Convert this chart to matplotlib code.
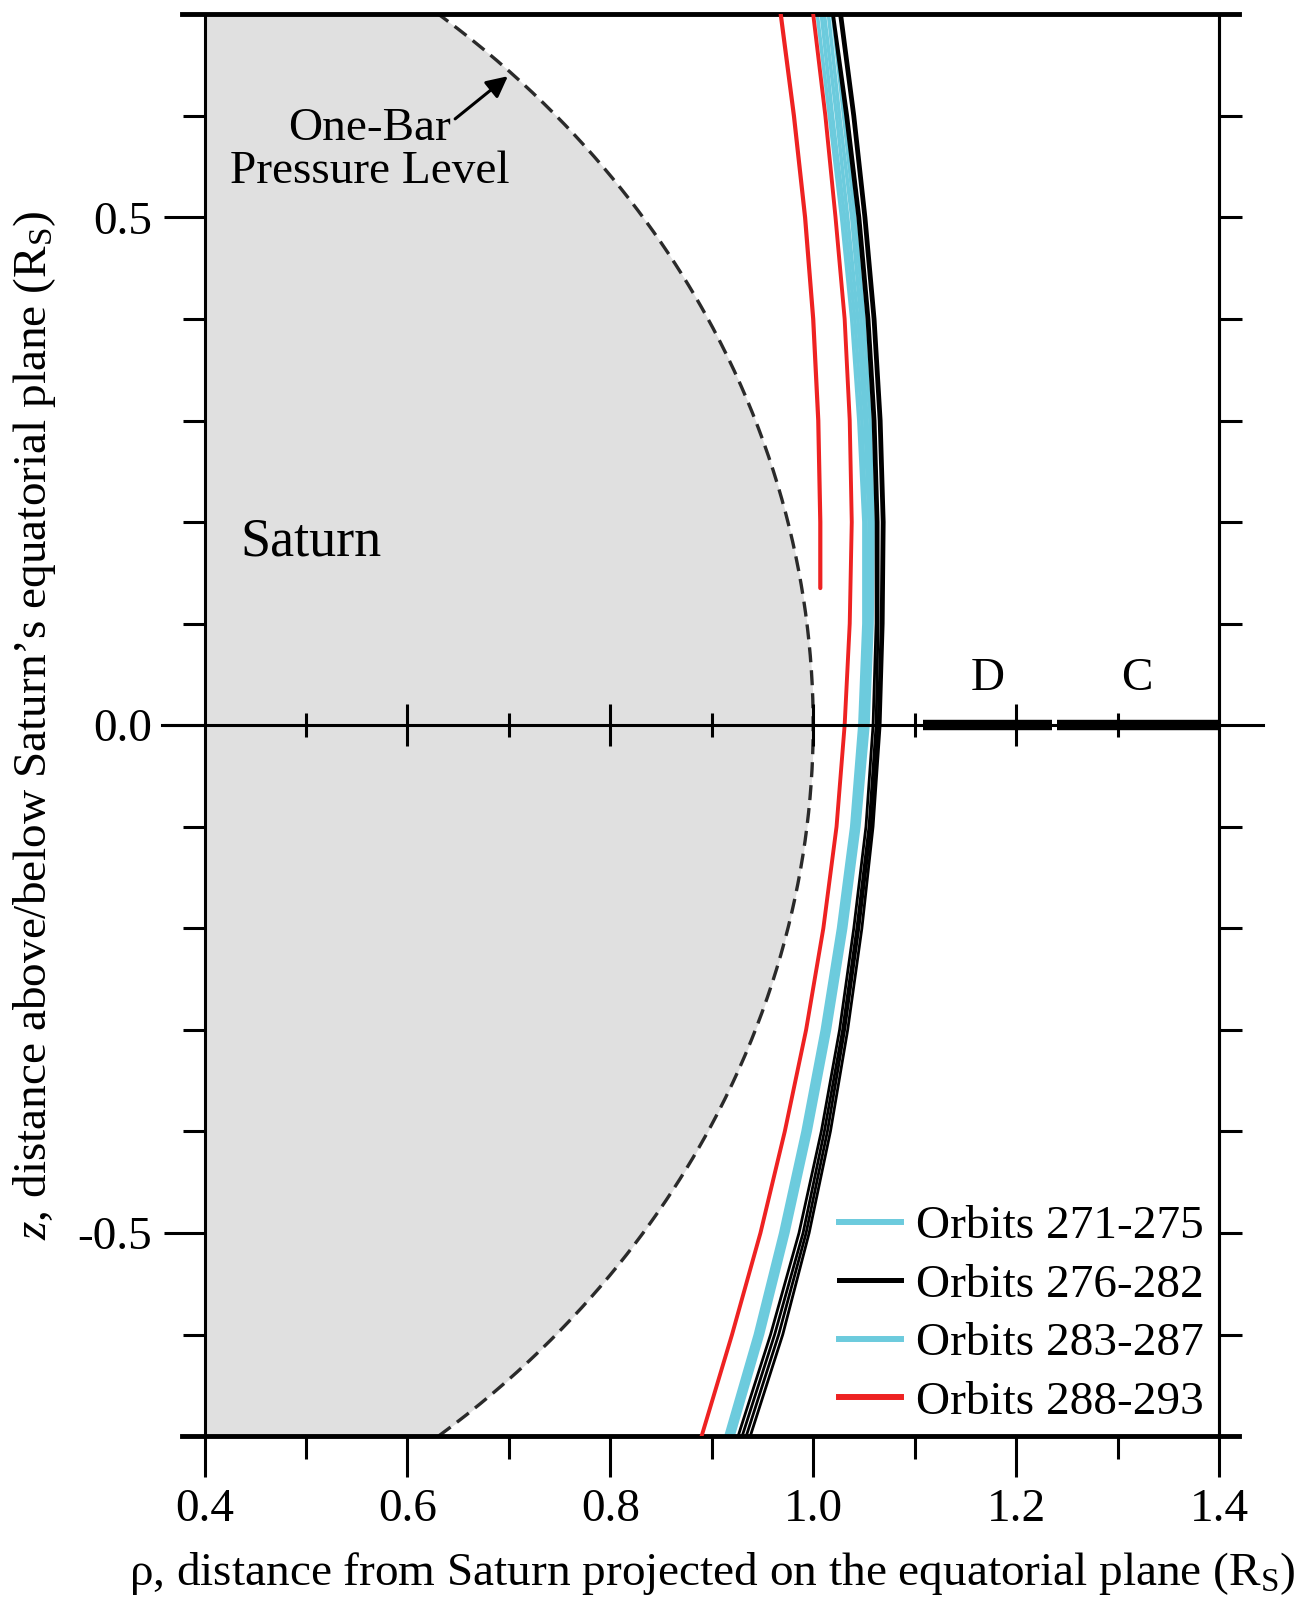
import matplotlib
matplotlib.use("Agg")
import matplotlib.pyplot as plt
from matplotlib.lines import Line2D
import numpy as np

plt.rcParams["font.family"] = "serif"
plt.rcParams["font.serif"] = ["Liberation Serif"]
plt.rcParams["mathtext.fontset"] = "custom"
plt.rcParams["mathtext.rm"] = "Liberation Serif"
plt.rcParams["mathtext.it"] = "Liberation Serif:italic"
plt.rcParams["mathtext.bf"] = "Liberation Serif:bold"

y_levels = [0.7, 0.6, 0.5, 0.4, 0.3, 0.2, 0.1, 0.0,
            -0.1, -0.2, -0.3, -0.4, -0.5, -0.6, -0.7]

# rho (R_S) of each trajectory at the levels above
orbits_271_275 = [
    [1.004, 1.016, 1.028, 1.038, 1.045, 1.050, 1.050, 1.046, 1.038, 1.025, 1.009, 0.990, 0.968, 0.943, 0.914],
    [1.008, 1.019, 1.031, 1.041, 1.048, 1.052, 1.052, 1.048, 1.040, 1.027, 1.011, 0.992, 0.970, 0.945, 0.916],
    [1.011, 1.023, 1.034, 1.044, 1.051, 1.055, 1.054, 1.050, 1.042, 1.029, 1.013, 0.994, 0.972, 0.947, 0.918],
]
orbits_276_282 = [
    [1.019, 1.032, 1.044, 1.053, 1.059, 1.062, 1.062, 1.059, 1.052, 1.040, 1.026, 1.008, 0.986, 0.958, 0.926],
    [1.020, 1.034, 1.046, 1.055, 1.061, 1.064, 1.064, 1.062, 1.055, 1.043, 1.029, 1.011, 0.990, 0.962, 0.930],
    [1.026, 1.039, 1.050, 1.059, 1.065, 1.068, 1.067, 1.064, 1.057, 1.045, 1.031, 1.014, 0.993, 0.966, 0.934],
    [1.028, 1.041, 1.052, 1.061, 1.067, 1.070, 1.069, 1.066, 1.059, 1.048, 1.034, 1.017, 0.996, 0.970, 0.938],
]
orbits_283_287 = [
    [1.015, 1.026, 1.038, 1.047, 1.053, 1.057, 1.056, 1.052, 1.043, 1.030, 1.014, 0.995, 0.973, 0.948, 0.919],
    [1.019, 1.030, 1.041, 1.050, 1.056, 1.059, 1.058, 1.054, 1.045, 1.032, 1.016, 0.997, 0.975, 0.950, 0.921],
]
orbits_288_293 = [
    [1.000, 1.012, 1.022, 1.031, 1.036, 1.038, 1.036, 1.031, 1.023, 1.010, 0.993, 0.972, 0.948, 0.920, 0.890],
]
# one red pass only partly covered
red_short_y = [0.7, 0.6, 0.5, 0.4, 0.3, 0.2, 0.135]
red_short_x = [0.968, 0.981, 0.992, 1.000, 1.005, 1.007, 1.007]

# Saturn one-bar level and rings
saturn_eq_radius = 1.0
saturn_polar_radius = 0.902
ring_d = [1.108, 1.235]
ring_c = [1.240, 1.400]

x_ticks = [0.4, 0.6, 0.8, 1.0, 1.2, 1.4]
x_minor = [0.5, 0.7, 0.9, 1.1, 1.3]
y_ticks = [-0.5, 0.0, 0.5]
y_minor = [-0.6, -0.4, -0.3, -0.2, -0.1, 0.1, 0.2, 0.3, 0.4, 0.6]
y_right = [-0.6, -0.5, -0.4, -0.3, -0.2, -0.1, 0.1, 0.2, 0.3, 0.4, 0.5, 0.6]
zero_major = [0.6, 0.8, 1.0, 1.2]
zero_minor = [0.5, 0.7, 0.9, 1.1, 1.3]

CYAN = "#6ccbdd"
RED = "#ee2222"
FS = 34

fig = plt.figure(figsize=(13.03, 16.04), dpi=100)
ax = fig.add_axes([0.157, 0.1047, 0.7785, 0.8864])
ax.set_xlim(0.4, 1.4)
ax.set_ylim(-0.7, 0.7)

# Saturn
yy = np.linspace(-0.7, 0.7, 400)
xx = saturn_eq_radius * np.sqrt(1 - (yy / saturn_polar_radius) ** 2)
ax.fill_betweenx(yy, 0.4, xx, color="#e0e0e0", lw=0, zorder=0)
ax.plot(xx, yy, color="#2a2a2a", ls=(0, (4.5, 2.4)), lw=2.4, zorder=1)

# trajectories
for xs in orbits_271_275:
    ax.plot(xs, y_levels, color=CYAN, lw=2.6, zorder=2)
for xs in orbits_283_287:
    ax.plot(xs, y_levels, color=CYAN, lw=2.6, zorder=2)
for xs in orbits_276_282:
    ax.plot(xs, y_levels, color="black", lw=2.0, zorder=3)
for xs in orbits_288_293:
    ax.plot(xs, y_levels, color=RED, lw=2.8, zorder=3)
ax.plot(red_short_x, red_short_y, color=RED, lw=3.0, zorder=3,
        solid_capstyle="round")

# equatorial plane with ticks and rings
ax.axhline(0, xmin=-0.042, xmax=1.043, color="black", lw=2.2, clip_on=False, zorder=4)
ax.plot(zero_major, [0] * len(zero_major), ls="none", marker="|", ms=30,
        mew=2.2, color="black", zorder=4)
ax.plot(zero_minor, [0] * len(zero_minor), ls="none", marker="|", ms=17,
        mew=2.2, color="black", zorder=4)
for r in (ring_d, ring_c):
    ax.plot(r, [0, 0], color="black", lw=7.5, solid_capstyle="butt", zorder=4)
ax.text(1.172, 0.046, "D", fontsize=FS, ha="center", va="center")
ax.text(1.319, 0.046, "C", fontsize=FS, ha="center", va="center")

ax.text(0.435, 0.18, "Saturn", fontsize=39, ha="left", va="center")
ax.text(0.563, 0.566, "One-Bar\nPressure Level", fontsize=FS, ha="center",
        va="center", linespacing=1.02)
ax.annotate("", xy=(0.699, 0.639), xytext=(0.647, 0.597),
            arrowprops=dict(arrowstyle="-|>", lw=2.2, color="black",
                            mutation_scale=32, shrinkA=0, shrinkB=0))

# frame
for s in ("top", "bottom"):
    ax.spines[s].set_visible(False)
for s in ("left", "right"):
    ax.spines[s].set_linewidth(2.2)
ax.axhline(0.7, xmin=-0.022, xmax=1.02, color="black", lw=3.5, clip_on=False)
ax.axhline(-0.7, xmin=-0.022, xmax=1.02, color="black", lw=3.5, clip_on=False)

ax.set_xticks(x_ticks)
ax.set_xticks(x_minor, minor=True)
ax.set_xticklabels([f"{v:.1f}" for v in x_ticks])
ax.set_yticks(y_ticks)
ax.set_yticks(y_minor, minor=True)
ax.set_yticklabels([f"{v:.1f}" for v in y_ticks])
ax.tick_params(which="major", length=29.5, width=2.2, labelsize=FS, pad=8)
ax.tick_params(which="minor", length=15.5, width=2.2)
ax.tick_params(axis="x", which="minor", length=16.5)

sec = ax.secondary_yaxis("right")
sec.set_yticks(y_right)
sec.tick_params(length=16.5, width=2.2, labelright=False)
sec.spines["right"].set_linewidth(2.2)

ax.set_xlabel(r"ρ, distance from Saturn projected on the equatorial plane (R$_\mathrm{S}$)",
              fontsize=FS, labelpad=14)
ax.set_ylabel(r"$z$, distance above/below Saturn’s equatorial plane (R$_\mathrm{S}$)",
              fontsize=FS, labelpad=14)

handles = [
    Line2D([], [], color=CYAN, lw=4.3),
    Line2D([], [], color="black", lw=3.6),
    Line2D([], [], color=CYAN, lw=4.3),
    Line2D([], [], color=RED, lw=4.3),
]
labels = ["Orbits 271-275", "Orbits 276-282", "Orbits 283-287", "Orbits 288-293"]
ax.legend(handles, labels, loc="upper left", bbox_to_anchor=(839 / 1303, 1 - 1205 / 1604),
          bbox_transform=fig.transFigure, frameon=False, fontsize=FS,
          handlelength=1.32, handletextpad=0.3, labelspacing=0.33, borderpad=0,
          borderaxespad=0)

fig.savefig("out.png", dpi=100)
